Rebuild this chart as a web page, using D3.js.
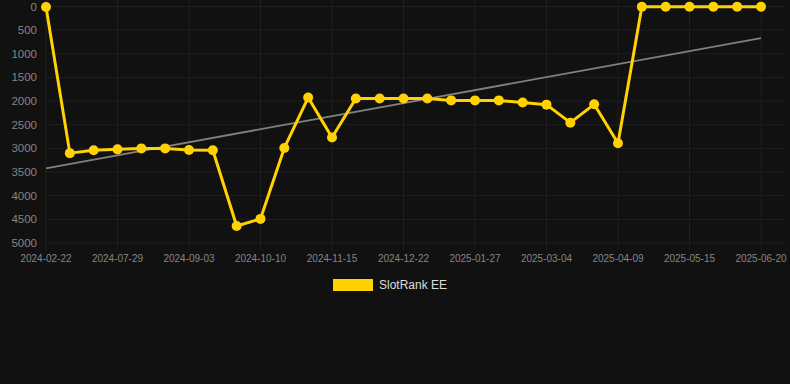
<!DOCTYPE html>
<html><head><meta charset="utf-8">
<script src="https://cdn.jsdelivr.net/npm/d3@7/dist/d3.min.js"></script>
<style>
html,body{margin:0;padding:0;background:#111111;}
svg{display:block;}
</style></head>
<body><svg id="c" width="790" height="384"></svg>
<script>
const dates = ["2024-02-22","2024-07-05","2024-07-17","2024-07-29","2024-08-10","2024-08-22","2024-09-03","2024-09-15","2024-09-27","2024-10-10","2024-10-22","2024-11-03","2024-11-15","2024-11-27","2024-12-10","2024-12-22","2025-01-03","2025-01-15","2025-01-27","2025-02-08","2025-02-20","2025-03-04","2025-03-16","2025-03-28","2025-04-09","2025-04-21","2025-05-03","2025-05-15","2025-05-27","2025-06-08","2025-06-20"];
const ranks = [10,3100,3040,3020,3000,3000,3035,3040,4640,4490,2990,1925,2770,1945,1945,1945,1945,1985,1985,1985,2030,2075,2456,2068,2893,5,5,5,5,5,5];
const yTicks = [0,500,1000,1500,2000,2500,3000,3500,4000,4500,5000];
const seriesName = "SlotRank EE";

const svg = d3.select("#c");
const x = d3.scalePoint().domain(d3.range(dates.length)).range([46, 761]);
const y = d3.scaleLinear().domain([0, 5000]).range([6.5, 243]);

const gridColor = "#1f1f1f";
svg.append("g").selectAll("line").data(yTicks).join("line")
  .attr("x1", 46).attr("x2", 786)
  .attr("y1", d => y(d)).attr("y2", d => y(d))
  .attr("stroke", gridColor).attr("stroke-width", 1);
const labelIdx = d3.range(0, dates.length, 3);
svg.append("g").selectAll("line").data(labelIdx).join("line")
  .attr("x1", d => x(d)).attr("x2", d => x(d))
  .attr("y1", 0).attr("y2", 250)
  .attr("stroke", gridColor).attr("stroke-width", 1);

svg.append("g").selectAll("text").data(yTicks).join("text")
  .attr("x", 37).attr("y", d => y(d)).attr("dy", "0.35em")
  .attr("text-anchor", "end")
  .attr("font-family", "Liberation Sans, Arial, sans-serif")
  .attr("font-size", 11.5).attr("fill", "#858585")
  .text(d => d);
svg.append("g").selectAll("text").data(labelIdx).join("text")
  .attr("x", d => x(d)).attr("y", 262)
  .attr("text-anchor", "middle")
  .attr("font-family", "Liberation Sans, Arial, sans-serif")
  .attr("font-size", 10).attr("fill", "#858585")
  .text(d => dates[d]);

const n = ranks.length;
const mx = d3.mean(d3.range(n)), my = d3.mean(ranks);
let sxy = 0, sxx = 0;
for (let i = 0; i < n; i++) { sxy += (i - mx) * (ranks[i] - my); sxx += (i - mx) ** 2; }
const slope = sxy / sxx, icpt = my - slope * mx;
svg.append("line")
  .attr("x1", x(0)).attr("y1", y(icpt))
  .attr("x2", x(n - 1)).attr("y2", y(icpt + slope * (n - 1)))
  .attr("stroke", "#808080").attr("stroke-width", 1.8);

const lineColor = "#ffd200";
svg.append("path").datum(ranks)
  .attr("d", d3.line().x((d, i) => x(i)).y(d => y(d)))
  .attr("fill", "none").attr("stroke", lineColor).attr("stroke-width", 3)
  .attr("stroke-linejoin", "round");
svg.append("g").selectAll("circle").data(ranks).join("circle")
  .attr("cx", (d, i) => x(i)).attr("cy", d => y(d)).attr("r", 5)
  .attr("fill", lineColor);

svg.append("rect").attr("x", 333).attr("y", 279).attr("width", 40).attr("height", 12).attr("fill", lineColor);
svg.append("text").attr("x", 379).attr("y", 285).attr("dy", "0.35em")
  .attr("font-family", "Liberation Sans, Arial, sans-serif")
  .attr("font-size", 12).attr("fill", "#dddddd").text(seriesName);
</script></body></html>
